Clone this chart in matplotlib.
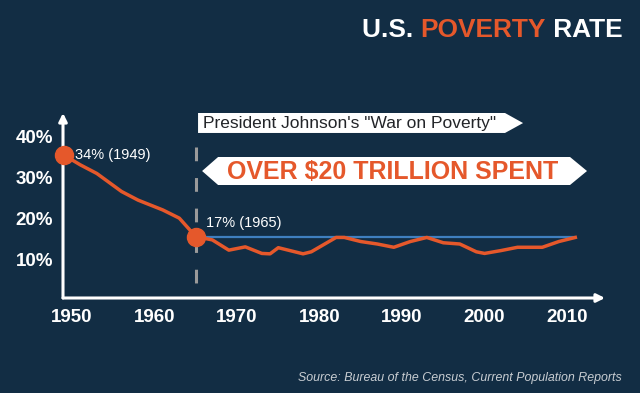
import matplotlib
matplotlib.use("Agg")
import matplotlib.pyplot as plt
from matplotlib.patches import Polygon

plt.rcParams['font.family'] = ['Liberation Sans', 'DejaVu Sans']

# Poverty rate (%)
years = [1949, 1951, 1953, 1956, 1958, 1961, 1963, 1965, 1967, 1969, 1971,
         1973, 1974, 1975, 1978, 1979, 1982, 1983, 1985, 1987, 1989, 1991,
         1993, 1995, 1997, 1999, 2000, 2002, 2004, 2007, 2009, 2011]
rate = [35.6, 33.2, 31.1, 26.7, 24.6, 22.2, 20.2, 15.7, 14.9, 12.4, 13.2,
        11.6, 11.5, 13.0, 11.5, 12.0, 15.5, 15.5, 14.5, 13.9, 13.1, 14.5,
        15.5, 14.2, 13.9, 12.0, 11.6, 12.3, 13.1, 13.1, 14.5, 15.5]
xticks = [1950, 1960, 1970, 1980, 1990, 2000, 2010]
yticks = [10, 20, 30, 40]
ytick_labels = ["10%", "20%", "30%", "40%"]
war_year = 1965
labels = {1949: "34% (1949)", 1965: "17% (1965)"}

BG = '#122d44'
ORANGE = '#e5582b'
BLUE = '#3f7fbf'

fig = plt.figure(figsize=(6.4, 3.93), dpi=100, facecolor=BG)
ax = fig.add_axes([63 / 640, 1 - 298 / 393, 542 / 640, 185 / 393])
ax.set_facecolor(BG)
ax.set_xlim(1948.9, 2014.6)
ax.set_ylim(0.73, 45.85)
for s in ax.spines.values():
    s.set_visible(False)

# axes with arrowheads
arrow = dict(arrowstyle='-|>', color='white', lw=2.2, mutation_scale=12,
             shrinkA=0, shrinkB=0)
ax.annotate('', xy=(1, 0), xytext=(0, 0), xycoords='axes fraction',
            arrowprops=arrow, annotation_clip=False)
ax.annotate('', xy=(0, 1), xytext=(0, 0), xycoords='axes fraction',
            arrowprops=arrow, annotation_clip=False)

ax.set_xticks(xticks)
ax.set_xticklabels([str(y) for y in xticks])
ax.set_yticks(yticks)
ax.set_yticklabels(ytick_labels)
ax.tick_params(length=0, colors='white', labelsize=13.5)
ax.tick_params(axis='x', pad=8)
ax.tick_params(axis='y', pad=7)
for lab in ax.get_xticklabels() + ax.get_yticklabels():
    lab.set_fontweight('bold')

# dashed marker for the war on poverty (dashes start from the top)
ax.plot([war_year, war_year], [37.6, 0.73], color='#9a9a9a', lw=2.2,
        linestyle=(0, (4.5, 5.5)), zorder=2, solid_capstyle='butt')

i65 = years.index(war_year)
ax.hlines(rate[i65], war_year, years[-1], color=BLUE, lw=1.6, zorder=3)
ax.plot(years, rate, color=ORANGE, lw=2.5, zorder=4, solid_joinstyle='round')

for yr, txt in labels.items():
    v = rate[years.index(yr)]
    ax.plot(yr, v, 'o', color=ORANGE, ms=13, zorder=5, clip_on=False)
    off = (8, 0) if yr == 1949 else (7, 10)
    ax.annotate(txt, (yr, v), xytext=off, textcoords='offset points',
                color='white', fontsize=10.5, va='center', ha='left')

# banners
b1 = Polygon([(1965.27, 40.98), (2002.48, 40.98), (2004.67, 43.4),
              (2002.48, 45.85), (1965.27, 45.85)], closed=True,
             facecolor='white', edgecolor='none', zorder=6, clip_on=False)
ax.add_patch(b1)
ax.text(1965.9, 43.4, 'President Johnson\'s "War on Poverty"', color='#222428',
        fontsize=12.5, va='center', ha='left', zorder=7)

b2 = Polygon([(1965.76, 31.7), (1967.7, 35.12), (2010.36, 35.12),
              (2012.42, 31.7), (2010.36, 28.29), (1967.7, 28.29)], closed=True,
             facecolor='white', edgecolor='none', zorder=6, clip_on=False)
ax.add_patch(b2)
ax.text(1988.9, 31.5, 'OVER $20 TRILLION SPENT', color=ORANGE, fontsize=18,
        fontweight='bold', va='center', ha='center', zorder=7)

# title in three colours
fig.canvas.draw()
r = fig.canvas.get_renderer()
x = 362 / 640
for part, col in [("U.S. ", 'white'), ("POVERTY", ORANGE), (" RATE", 'white')]:
    t = fig.text(x, 1 - 30 / 393, part, color=col, fontsize=18.9, fontweight='bold',
                 va='center', ha='left')
    bb = t.get_window_extent(r)
    x = bb.x1 / fig.bbox.width

fig.text(622 / 640, 1 - 378 / 393,
         'Source: Bureau of the Census, Current Population Reports',
         color='#c8cdd2', fontsize=8.9, style='italic', ha='right', va='center')

fig.savefig('out.png', dpi=100, facecolor=BG)
